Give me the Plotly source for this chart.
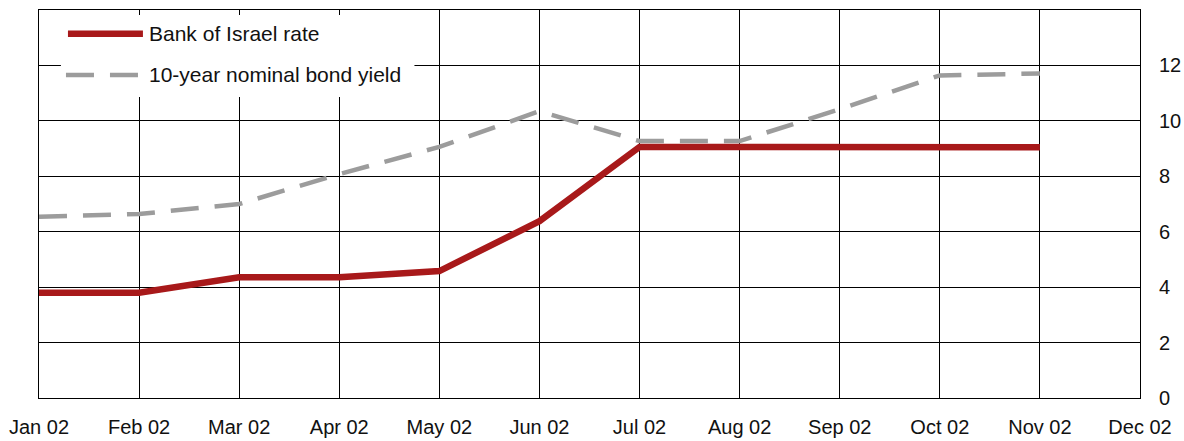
import plotly.graph_objects as go

# Monthly series, 2002 (percent)
months = ["Jan 02", "Feb 02", "Mar 02", "Apr 02", "May 02", "Jun 02",
          "Jul 02", "Aug 02", "Sep 02", "Oct 02", "Nov 02", "Dec 02"]
boi_rate = [3.8, 3.8, 4.36, 4.36, 4.58, 6.38, 9.06, 9.06, 9.05, 9.05, 9.05]
bond_yield = [6.54, 6.64, 7.0, 8.08, 9.06, 10.35, 9.27, 9.27, 10.42, 11.64, 11.71]
y_ticks = [0, 2, 4, 6, 8, 10, 12]

RED = "#A8191A"
GREY = "#9C9C9C"
FONT = "Liberation Sans, Arial, sans-serif"

x_idx = list(range(len(months)))

fig = go.Figure()
fig.add_trace(go.Scatter(
    x=x_idx[:len(bond_yield)], y=bond_yield, mode="lines",
    name="10-year nominal bond yield",
    line=dict(color=GREY, width=4.5, dash="28px,16px"),
))
fig.add_trace(go.Scatter(
    x=x_idx[:len(boi_rate)], y=boi_rate, mode="lines",
    name="Bank of Israel rate",
    line=dict(color=RED, width=6.5),
))

# Hand-built legend box in the upper-left corner (paper coords of a 388px-tall plot)
shapes = [
    dict(type="rect", xref="paper", yref="paper", x0=0.0199, x1=0.341,
         y0=0.776, y1=0.987, fillcolor="white", line=dict(width=0), layer="above"),
    dict(type="line", xref="paper", yref="paper", x0=0.0263, x1=0.0944,
         y0=0.9389, y1=0.9389, line=dict(color=RED, width=6.5), layer="above"),
    dict(type="line", xref="paper", yref="paper", x0=0.0245, x1=0.0899,
         y0=0.8325, y1=0.8325, line=dict(color=GREY, width=4.5, dash="28px,16px"),
         layer="above"),
]
annotations = [
    dict(text="Bank of Israel rate", xref="paper", yref="paper", x=0.0985, y=0.9389,
         xanchor="left", yanchor="middle", showarrow=False,
         font=dict(family=FONT, size=21, color="#111")),
    dict(text="10-year nominal bond yield", xref="paper", yref="paper", x=0.0985, y=0.8325,
         xanchor="left", yanchor="middle", showarrow=False,
         font=dict(family=FONT, size=21, color="#111")),
]

fig.update_layout(
    width=1184, height=441,
    margin=dict(l=39, r=44, t=10, b=43),
    paper_bgcolor="white", plot_bgcolor="white",
    showlegend=False,
    font=dict(family=FONT, size=20, color="#111"),
    shapes=shapes, annotations=annotations,
    xaxis=dict(
        range=[0, 11], tickmode="array", tickvals=x_idx, ticktext=months,
        showgrid=True, gridcolor="black", gridwidth=1,
        showline=True, linecolor="black", linewidth=1, mirror=True,
        ticks="", ticklabelstandoff=11, zeroline=False, automargin=False,
    ),
    yaxis=dict(
        range=[0, 14], side="right", tickmode="array", tickvals=y_ticks,
        showgrid=True, gridcolor="black", gridwidth=1,
        showline=True, linecolor="black", linewidth=1, mirror=True,
        ticks="", ticklabelstandoff=14, zeroline=False, automargin=False,
    ),
)

fig.write_html("out.html")
